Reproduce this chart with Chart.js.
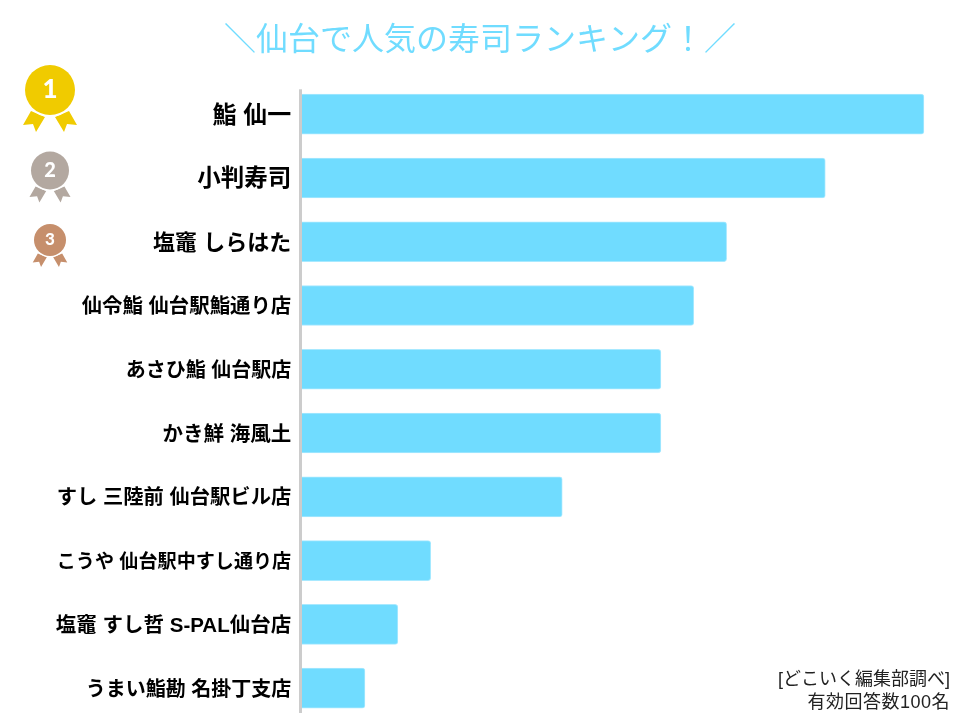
<!DOCTYPE html>
<html lang="ja">
<head>
<meta charset="utf-8">
<style>
  html, body { margin: 0; padding: 0; background: #fff; }
  #wrap { position: relative; width: 960px; height: 720px; }
</style>
</head>
<body>
<div id="wrap"><canvas id="rankingChart" width="960" height="720"></canvas></div>
<script src="https://cdn.jsdelivr.net/npm/chart.js@4"></script>
<script>
const shops = [
  '鮨 仙一', '小判寿司', '塩竈 しらはた', '仙令鮨 仙台駅鮨通り店', 'あさひ鮨 仙台駅店',
  'かき鮮 海風土', 'すし 三陸前 仙台駅ビル店', 'こうや 仙台駅中すし通り店', '塩竈 すし哲 S-PAL仙台店', 'うまい鮨勘 名掛丁支店'
];
const votes = [19, 16, 13, 12, 11, 11, 8, 4, 3, 2];
const labelSizes = [24, 23.5, 22, 20.4, 20, 20.5, 20.3, 19.1, 20.5, 20];
const titleText = '＼仙台で人気の寿司ランキング！／';
const noteLines = ['[どこいく編集部調べ]', '有効回答数100名'];

const FONT = '"Liberation Sans", "Noto Sans CJK JP", sans-serif';
const BAR_COLOR = '#70dcff';

// Grey axis line, it stops a little short of the plot edges
const axisLine = {
  id: 'axisLine',
  afterDatasetsDraw(chart) {
    const { ctx, chartArea } = chart;
    const x = Math.round(chart.scales.x.getPixelForValue(0));
    ctx.save();
    ctx.fillStyle = '#cccccc';
    ctx.fillRect(x, chartArea.top + 7, 3, chartArea.bottom - chartArea.top - 14);
    ctx.restore();
  },
};

// Medal next to the top three rows
function drawMedal(ctx, cx, cy, r, color, num) {
  const k = r / 25;
  ctx.save();
  ctx.fillStyle = color;
  // ribbons
  [-1, 1].forEach(side => {
    ctx.beginPath();
    ctx.moveTo(cx + side * 19 * k, cy + 21 * k);
    ctx.lineTo(cx + side * 5 * k, cy + 27 * k);
    ctx.lineTo(cx + side * 14 * k, cy + 42 * k);
    ctx.lineTo(cx + side * 17 * k, cy + 34 * k);
    ctx.lineTo(cx + side * 27 * k, cy + 35 * k);
    ctx.closePath();
    ctx.fill();
  });
  ctx.fillStyle = '#fff';
  ctx.beginPath();
  ctx.arc(cx, cy, r * 1.08, 0, Math.PI * 2);
  ctx.fill();
  ctx.fillStyle = color;
  ctx.beginPath();
  ctx.arc(cx, cy, r, 0, Math.PI * 2);
  ctx.fill();
  ctx.fillStyle = '#fff';
  ctx.font = `900 ${Math.round(r * 1.05)}px Lato, Roboto, sans-serif`;
  ctx.textAlign = 'center';
  ctx.textBaseline = 'middle';
  ctx.fillText(num, cx, cy);
  ctx.restore();
}

const decorations = {
  id: 'decorations',
  afterDraw(chart) {
    const { ctx } = chart;
    drawMedal(ctx, 50, 90, 25, '#f0cb00', '1');
    drawMedal(ctx, 50, 170.5, 19, '#b3a8a0', '2');
    drawMedal(ctx, 50, 240, 16, '#c68f6c', '3');

    ctx.save();
    ctx.fillStyle = BAR_COLOR;
    ctx.font = `32px ${FONT}`;
    ctx.textAlign = 'center';
    ctx.textBaseline = 'middle';
    ctx.fillText(titleText, 480, 41);

    ctx.fillStyle = '#222';
    ctx.font = `18px ${FONT}`;
    ctx.textAlign = 'right';
    ctx.fillText(noteLines[0], 950, 680);
    ctx.letterSpacing = '0.5px';
    ctx.fillText(noteLines[1], 950, 703);
    ctx.restore();
  },
};

new Chart(document.getElementById('rankingChart').getContext('2d'), {
  type: 'bar',
  data: {
    labels: shops,
    datasets: [{
      data: votes,
      backgroundColor: BAR_COLOR,
      borderColor: '#a8e9ff',
      borderWidth: 1,
      borderRadius: 3,
      borderSkipped: 'left',
      barThickness: 40,
    }],
  },
  options: {
    indexAxis: 'y',
    responsive: false,
    animation: false,
    layout: { padding: { top: 82.3, right: 3.2, bottom: 0, left: 0 } },
    plugins: {
      legend: { display: false },
      tooltip: { enabled: false },
    },
    scales: {
      x: { display: false, min: 0, max: 20 },
      y: {
        afterFit(scale) {
          scale.width = 299.2;
          scale.paddingTop = 0;
          scale.paddingBottom = 0;
        },
        border: { display: false },
        grid: { display: false, drawTicks: false },
        ticks: {
          color: '#000',
          padding: 8,
          labelOffset: 2,
          autoSkip: false,
          font: ctx => ({ family: FONT, weight: 'bold', size: labelSizes[ctx.index] }),
        },
      },
    },
  },
  plugins: [axisLine, decorations],
});
</script>
</body>
</html>
